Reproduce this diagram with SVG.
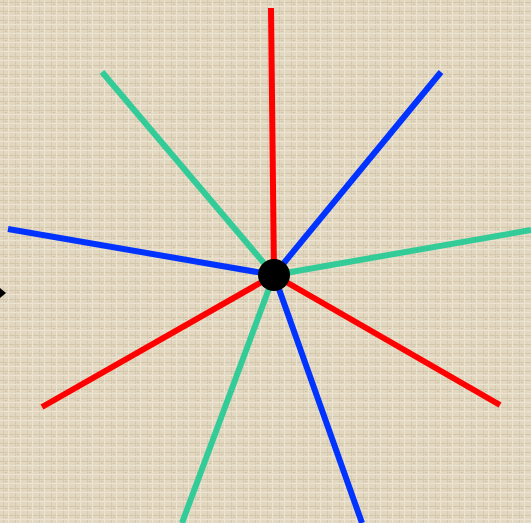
<svg xmlns="http://www.w3.org/2000/svg" width="531" height="523" viewBox="0 0 531 523">
<defs>
<pattern id="tex" width="12" height="9" patternUnits="userSpaceOnUse">
<rect width="12" height="9" fill="#e2d7c0"/>
<rect x="0" y="2" width="12" height="1" fill="#d3c6ab"/>
<rect x="3" y="0" width="1" height="9" fill="#d6c9ae"/>
<rect x="8" y="0" width="1" height="9" fill="#ede5d3"/>
<rect x="0" y="6" width="12" height="1" fill="#ece4d1"/>
<rect x="5" y="4" width="2" height="1" fill="#cfc1a5"/>
</pattern>
<style>
.r{stroke:#ff0000}.b{stroke:#0033ff}.g{stroke:#33cc99}
#connectors line{stroke-width:6;stroke-linecap:butt}
</style>
</defs>
<rect width="531" height="523" fill="url(#tex)"/>
<g id="connectors">
<line class="r" x1="271" y1="8" x2="274" y2="275"/>
<line class="b" x1="441" y1="72" x2="274" y2="275"/>
<line class="g" x1="531" y1="230" x2="274" y2="275"/>
<line class="r" x1="500" y1="405" x2="274" y2="275"/>
<line class="b" x1="362" y1="523" x2="274" y2="275"/>
<line class="g" x1="182" y1="523" x2="274" y2="275"/>
<line class="r" x1="42" y1="407" x2="274" y2="275"/>
<line class="b" x1="8" y1="229" x2="274" y2="275"/>
<line class="g" x1="102" y1="72" x2="274" y2="275"/>
</g>
<g id="center"><circle cx="274" cy="275" r="16" fill="#000"/></g>
<g id="arrow"><polygon points="0,288 6,293 0,298" fill="#000"/></g>
</svg>
